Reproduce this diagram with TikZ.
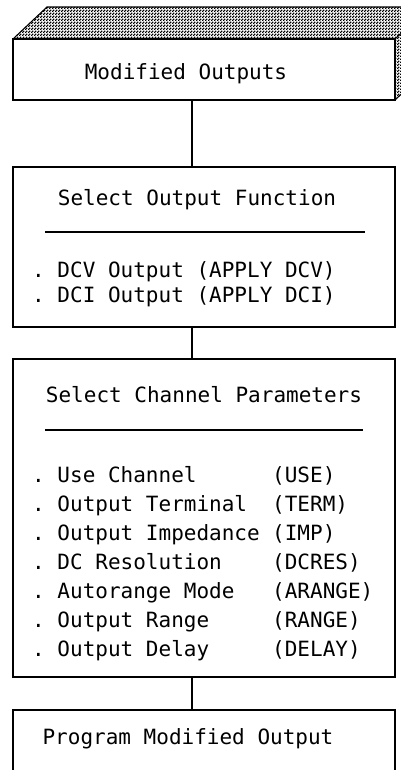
\documentclass[tikz,border=0pt]{standalone}
\usepackage{fontspec}
\setmonofont{DejaVu Sans Mono}
\usetikzlibrary{patterns}
\pgfdeclarepatternformonly{checker}{\pgfqpoint{0pt}{0pt}}{\pgfqpoint{2.6pt}{2.6pt}}{\pgfqpoint{2.6pt}{2.6pt}}{%
  \pgfpathrectangle{\pgfqpoint{0pt}{0pt}}{\pgfqpoint{1.5pt}{1.5pt}}%
  \pgfpathrectangle{\pgfqpoint{1.3pt}{1.3pt}}{\pgfqpoint{1.5pt}{1.5pt}}%
  \pgfusepath{fill}}
\begin{document}
\begin{tikzpicture}[x=1pt,y=-1pt,
  txt/.style={font=\ttfamily\fontsize{21}{24}\selectfont, inner sep=0pt, anchor=base west},
  ttl/.style={font=\ttfamily\fontsize{21}{24}\selectfont, inner sep=0pt, anchor=base},
  boxline/.style={draw=black, line width=1.1pt},
  conn/.style={draw=black, line width=1.1pt},
  sep/.style={draw=black, line width=1.1pt}]
\useasboundingbox (0,0) rectangle (401,770);
\begin{scope}
\clip (0,0) rectangle (401,770);
% 3D top of first box
\path[pattern=checker, pattern color=black] (13,39) -- (47,7) -- (429,7) -- (429,68) -- (395,100) -- (395,39) -- cycle;
\draw[boxline] (13,39) -- (47,7) -- (429,7);
\draw[boxline] (395,39) -- (429,7);
\draw[boxline] (395,100) -- (429,68);
% box 1
\draw[boxline] (13,39) rectangle (395,100);
\node[ttl] (b1) at (186,80) {Modified Outputs};
\coordinate (b1s) at (192,100);
% box 2
\draw[boxline] (13,167) rectangle (395,327);
\coordinate (b2n) at (192,167);
\coordinate (b2s) at (192,327);
\node[ttl] (t2) at (197,205) {Select Output Function};
\draw[sep] (45,232) -- (365,232);
\node[txt] (d1) at (32,277) {. DCV Output (APPLY DCV)};
\node[txt] (d2) at (32,302) {. DCI Output (APPLY DCI)};
% box 3
\draw[boxline] (13,359) rectangle (395,677);
\coordinate (b3n) at (192,359);
\coordinate (b3s) at (192,677);
\node[ttl] (t3) at (204,402) {Select Channel Parameters};
\draw[sep] (45,430) -- (363,430);
\node[txt] (p1) at (32,482) {. Use Channel};
\node[txt] (c1) at (272,482) {(USE)};
\node[txt] (p2) at (32,511) {. Output Terminal};
\node[txt] (c2) at (272,511) {(TERM)};
\node[txt] (p3) at (32,540) {. Output Impedance};
\node[txt] (c3) at (272,540) {(IMP)};
\node[txt] (p4) at (32,569) {. DC Resolution};
\node[txt] (c4) at (272,569) {(DCRES)};
\node[txt] (p5) at (32,598) {. Autorange Mode};
\node[txt] (c5) at (272,598) {(ARANGE)};
\node[txt] (p6) at (32,627) {. Output Range};
\node[txt] (c6) at (272,627) {(RANGE)};
\node[txt] (p7) at (32,656) {. Output Delay};
\node[txt] (c7) at (272,656) {(DELAY)};
% box 4
\draw[boxline] (13,780) -- (13,710) -- (395,710) -- (395,780);
\coordinate (b4n) at (192,710);
\node[ttl] (t4) at (188,744) {Program Modified Output};
% connectors
\draw[conn] (b1s) -- (b2n);
\draw[conn] (b2s) -- (b3n);
\draw[conn] (b3s) -- (b4n);
\end{scope}
\end{tikzpicture}
\end{document}
